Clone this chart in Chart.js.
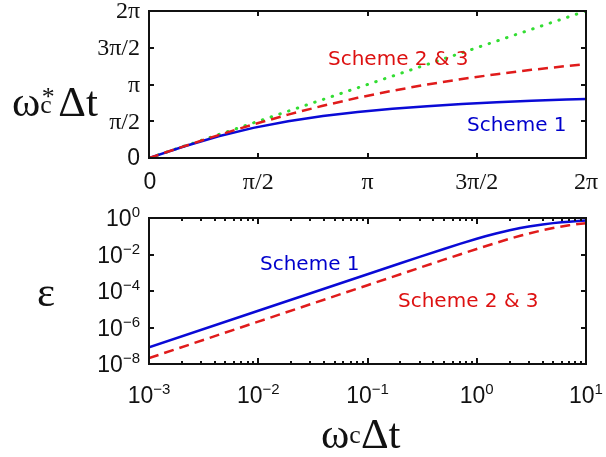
<!DOCTYPE html>
<html>
<head>
<meta charset="utf-8">
<script src="https://cdn.jsdelivr.net/npm/chart.js@4"></script>
<style>
  body { margin: 0; background: #fff; }
  #page { position: relative; width: 606px; height: 457px; overflow: hidden; }
  .box { position: absolute; left: 0; width: 606px; }
  .txt { position: absolute; white-space: nowrap; line-height: 1; }
  .sch { font-family: 'DejaVu Sans', sans-serif; font-size: 20px; line-height: 20px; }
  .blue { color: #0000cc; }
  .red { color: #dd1111; }
  .ser { font-family: 'Liberation Serif', serif; font-size: 43px; color: #111; }
  .stack { display: inline-block; position: relative; height: 0; }
  .stack span { position: absolute; font-size: 0.6em; }
</style>
</head>
<body>
<div id="page">
  <div class="box" style="top:0;height:210px"><canvas id="phase" width="606" height="210"></canvas></div>
  <div class="box" style="top:200px;height:257px"><canvas id="error" width="606" height="257"></canvas></div>

  <div class="txt ser" style="left:12px;top:80px">ω<span class="stack" style="width:0.42em"><span style="left:0.06em;bottom:0.26em">*</span><span style="left:0;bottom:-0.06em">c</span></span>Δt</div>
  <div class="txt ser" style="left:37px;top:270px">ε</div>
  <div class="txt ser" style="left:321px;top:412px">ω<span class="stack" style="width:0.27em"><span style="left:0;bottom:0">c</span></span>Δt</div>

  <div class="txt sch red" style="left:328px;top:48px">Scheme 2 &amp; 3</div>
  <div class="txt sch blue" style="left:467px;top:114px">Scheme 1</div>
  <div class="txt sch blue" style="left:260px;top:253px">Scheme 1</div>
  <div class="txt sch red" style="left:398px;top:290px">Scheme 2 &amp; 3</div>
</div>
<script>
// top panel: phase vs omega_c*dt (radians)
var PHASE_X        = [0, 0.5, 1, 1.5, 2, 2.5, 3, 3.5, 4, 4.5, 5, 5.5, 6, 6.2832];
var SCHEME1_PHASE  = [0, 0.490, 0.927, 1.287, 1.571, 1.792, 1.966, 2.103, 2.214, 2.305, 2.381, 2.444, 2.498, 2.525];
var SCHEME23_PHASE = [0, 0.497, 0.980, 1.435, 1.855, 2.234, 2.574, 2.875, 3.142, 3.377, 3.584, 3.768, 3.931, 4.016];
var EXACT_X        = [0, 6.2832];
var EXACT_PHASE    = [0, 6.2832];
var PHASE_TICKS    = [0, 1.5708, 3.1416, 4.7124, 6.2832];
var PHASE_LABELS   = ['0', 'π/2', 'π', '3π/2', '2π'];

// bottom panel: relative error, log-log
var ERR_X        = [0.001, 0.01, 0.1, 0.2, 0.3, 0.5, 0.7, 1, 1.2, 1.5, 2, 2.5, 3, 4, 5, 6, 7, 8.5, 10];
var SCHEME1_ERR  = [8.3e-8, 8.3e-6, 8.3e-4, 3.31e-3, 7.4e-3, 0.0201, 0.0381, 0.0727, 0.0993, 0.142, 0.2146, 0.2832, 0.3448, 0.4464, 0.5239, 0.5837, 0.6307, 0.6848, 0.7253];
var SCHEME23_ERR = [2.1e-8, 2.1e-6, 2.08e-4, 8.32e-4, 1.87e-3, 5.2e-3, 0.0100, 0.0201, 0.0285, 0.0433, 0.0727, 0.1062, 0.142, 0.2146, 0.2832, 0.3448, 0.3991, 0.4678, 0.5239];
var ERR_X_EXP    = [-3, -2, -1, 0, 1];
var ERR_Y_EXP    = [0, -2, -4, -6, -8];

var BLUE = '#0a0ad6', RED = '#e01b1b', GREEN = '#33dd33', INK = '#111';

function pts(xs, ys) {
    return xs.map(function (x, i) { return { x: x, y: ys[i] }; });
}

function setTicks(values) {
    return function (scale) { scale.ticks = values.map(function (v) { return { value: v }; }); };
}

function seg(ctx, x1, y1, x2, y2) {
    ctx.beginPath(); ctx.moveTo(x1, y1); ctx.lineTo(x2, y2); ctx.stroke();
}

// box + inward tick marks on all four sides, MATLAB style
var frame = {
    id: 'frame',
    afterDatasetsDraw: function (chart, args, opts) {
        var ctx = chart.ctx, a = chart.chartArea;
        var sx = chart.scales.x, sy = chart.scales.y;
        ctx.save();
        ctx.strokeStyle = INK;
        ctx.lineWidth = 2;
        ctx.strokeRect(a.left, a.top, a.right - a.left, a.bottom - a.top);
        opts.xMarks.forEach(function (m) {
            var px = Math.round(sx.getPixelForValue(m[0]));
            seg(ctx, px, a.bottom, px, a.bottom - m[1]);
            seg(ctx, px, a.top, px, a.top + m[1]);
        });
        opts.yMarks.forEach(function (m) {
            var py = Math.round(sy.getPixelForValue(m[0]));
            seg(ctx, a.left, py, a.left + m[1], py);
            seg(ctx, a.right, py, a.right - m[1], py);
        });
        ctx.restore();
    },
    afterDraw: function (chart, args, opts) {
        if (opts.labels) opts.labels(chart);
    }
};

function powerLabel(ctx, exp, x, y, align) {
    var base = '10', sup = (exp < 0 ? '\u2212' : '') + Math.abs(exp);
    ctx.font = '23px "Liberation Sans", Arial, sans-serif';
    var wb = ctx.measureText(base).width;
    ctx.font = '15px "Liberation Sans", Arial, sans-serif';
    var ws = ctx.measureText(sup).width;
    var left = align === 'right' ? x - wb - ws : x - (wb + ws) / 2;
    ctx.textAlign = 'left';
    ctx.textBaseline = 'alphabetic';
    ctx.font = '23px "Liberation Sans", Arial, sans-serif';
    ctx.fillText(base, left, y + 8);
    ctx.font = '15px "Liberation Sans", Arial, sans-serif';
    ctx.fillText(sup, left + wb, y - 1);
}

new Chart(document.getElementById('phase'), {
    type: 'line',
    data: {
        datasets: [
            { data: pts(PHASE_X, SCHEME23_PHASE), borderColor: RED, borderWidth: 2.5, borderDash: [10, 6], order: 0 },
            { data: pts(PHASE_X, SCHEME1_PHASE), borderColor: BLUE, borderWidth: 2.5, order: 1 },
            { data: pts(EXACT_X, EXACT_PHASE), borderColor: GREEN, borderWidth: 3, borderDash: [0.5, 8.7], borderCapStyle: 'round', order: 2 }
        ]
    },
    options: {
        responsive: false,
        animation: false,
        devicePixelRatio: 1,
        layout: { padding: { top: 11, right: 20, left: 0, bottom: 0 } },
        elements: { point: { radius: 0 }, line: { tension: 0 } },
        plugins: {
            legend: { display: false },
            tooltip: { enabled: false },
            frame: {
                xMarks: PHASE_TICKS.slice(1, -1).map(function (v) { return [v, 5]; }),
                yMarks: PHASE_TICKS.slice(1, -1).map(function (v) { return [v, 5]; }),
                labels: function (chart) {
                    var ctx = chart.ctx, sx = chart.scales.x, sy = chart.scales.y;
                    ctx.save();
                    ctx.fillStyle = INK;
                    ctx.textBaseline = 'middle';
                    PHASE_TICKS.forEach(function (v, i) {
                        ctx.font = i === 0 ? '23px "Liberation Sans", Arial, sans-serif' : '24px "Liberation Serif", serif';
                        ctx.textAlign = 'right';
                        ctx.fillText(PHASE_LABELS[i], 140, sy.getPixelForValue(v) + 1);
                        ctx.textAlign = 'center';
                        ctx.fillText(PHASE_LABELS[i], sx.getPixelForValue(v) + (i === 0 ? 1 : 0), 183);
                    });
                    ctx.restore();
                }
            }
        },
        scales: {
            x: {
                type: 'linear', min: 0, max: 6.2832,
                afterBuildTicks: setTicks(PHASE_TICKS),
                afterFit: function (s) { s.height = 52; },
                grid: { display: false }, border: { display: false }, ticks: { display: false }
            },
            y: {
                type: 'linear', min: 0, max: 6.2832,
                afterBuildTicks: setTicks(PHASE_TICKS),
                afterFit: function (s) { s.width = 149; },
                grid: { display: false }, border: { display: false }, ticks: { display: false }
            }
        }
    },
    plugins: [frame]
});

var minorX = [];
ERR_X_EXP.slice(0, -1).forEach(function (e) {
    for (var m = 2; m <= 9; m++) minorX.push([m * Math.pow(10, e), 3]);
});

new Chart(document.getElementById('error'), {
    type: 'line',
    data: {
        datasets: [
            { data: pts(ERR_X, SCHEME23_ERR), borderColor: RED, borderWidth: 2.5, borderDash: [10, 6], order: 0 },
            { data: pts(ERR_X, SCHEME1_ERR), borderColor: BLUE, borderWidth: 2.5, order: 1 }
        ]
    },
    options: {
        responsive: false,
        animation: false,
        devicePixelRatio: 1,
        layout: { padding: { top: 18, right: 20, left: 0, bottom: 0 } },
        elements: { point: { radius: 0 }, line: { tension: 0 } },
        plugins: {
            legend: { display: false },
            tooltip: { enabled: false },
            frame: {
                xMarks: ERR_X_EXP.slice(1, -1).map(function (e) { return [Math.pow(10, e), 6]; }).concat(minorX),
                yMarks: ERR_Y_EXP.slice(1, -1).map(function (e) { return [Math.pow(10, e), 5]; }),
                labels: function (chart) {
                    var ctx = chart.ctx, sx = chart.scales.x, sy = chart.scales.y;
                    ctx.save();
                    ctx.fillStyle = INK;
                    ERR_Y_EXP.forEach(function (e) {
                        powerLabel(ctx, e, 140, sy.getPixelForValue(Math.pow(10, e)), 'right');
                    });
                    ERR_X_EXP.forEach(function (e) {
                        powerLabel(ctx, e, sx.getPixelForValue(Math.pow(10, e)), 195, 'center');
                    });
                    ctx.restore();
                }
            }
        },
        scales: {
            x: {
                type: 'logarithmic', min: 1e-3, max: 10,
                afterBuildTicks: setTicks(ERR_X_EXP.map(function (e) { return Math.pow(10, e); })),
                afterFit: function (s) { s.height = 93; },
                grid: { display: false }, border: { display: false }, ticks: { display: false }
            },
            y: {
                type: 'logarithmic', min: 1e-8, max: 1,
                afterBuildTicks: setTicks(ERR_Y_EXP.map(function (e) { return Math.pow(10, e); })),
                afterFit: function (s) { s.width = 149; },
                grid: { display: false }, border: { display: false }, ticks: { display: false }
            }
        }
    },
    plugins: [frame]
});
</script>
</body>
</html>
